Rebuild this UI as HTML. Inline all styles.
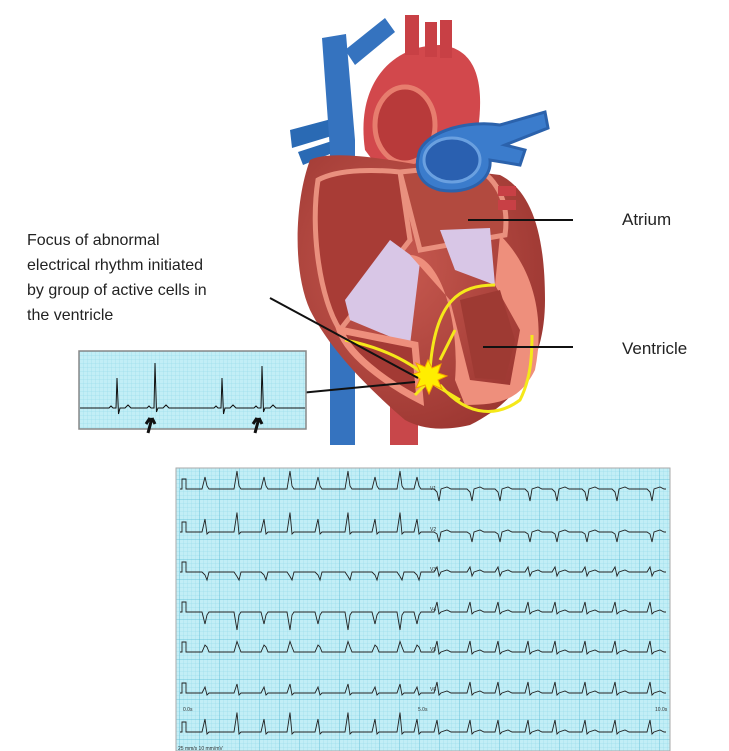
<!DOCTYPE html>
<html><head><meta charset="utf-8"><style>
html,body{margin:0;padding:0;background:#fff;width:729px;height:751px;overflow:hidden}
svg{display:block}
text{font-family:"Liberation Sans",sans-serif}
</style></head><body>
<svg id="s" width="729" height="751" viewBox="0 0 729 751" xmlns="http://www.w3.org/2000/svg">
<defs>
<pattern id="g1" width="4" height="4" patternUnits="userSpaceOnUse"><rect width="4" height="4" fill="#c2eef6"/><path d="M4 0V4M0 4H4" stroke="#8fd6e8" stroke-width="0.5"/></pattern>
<pattern id="g2" width="20" height="20" patternUnits="userSpaceOnUse"><rect width="20" height="20" fill="url(#g1)"/><path d="M20 0V20M0 20H20" stroke="#5bbcd6" stroke-width="0.8"/></pattern>
<radialGradient id="rg" cx="0.4" cy="0.4" r="0.7"><stop offset="0" stop-color="#c85a50"/><stop offset="1" stop-color="#9a3530"/></radialGradient>
</defs>
<path d="M290 130 L335 118 L335 135 L292 148Z" fill="#2a6ab4"/>
<path d="M298 152 L335 140 L335 152 L303 165Z" fill="#2a6ab4"/>
<path d="M322 38 L346 34 L355 140 L355 445 L330 445 L330 150Z" fill="#3573bf"/>
<path d="M345 50 L385 18 L395 32 L355 65Z" fill="#3573bf"/>
<rect x="390" y="395" width="28" height="50" fill="#c8474a"/>
<path d="M365 150 C355 80 395 45 440 45 C475 48 485 80 478 130 L470 170 L380 170Z" fill="#d2484c"/>
<rect x="405" y="15" width="14" height="40" fill="#c84045"/>
<rect x="425" y="22" width="12" height="35" fill="#c84045"/>
<rect x="440" y="20" width="12" height="38" fill="#c84045"/>
<ellipse cx="405" cy="125" rx="30" ry="38" fill="#b83a3a" stroke="#e77d6e" stroke-width="5"/>
<path d="M310 160 C330 150 380 158 420 165 L500 175 C530 190 545 230 545 300 C545 360 520 400 470 425 C440 432 420 428 405 420 C370 390 330 350 310 310 C292 270 295 200 310 160Z" fill="url(#rg)"/>
<path d="M318 180 C340 168 380 170 400 172 L410 240 L340 330 C320 300 310 230 318 180Z" fill="#a83c36" stroke="#e9907e" stroke-width="5"/>
<path d="M400 172 L470 165 C495 175 510 200 505 235 L420 250 Z" fill="#b24a3f" stroke="#e9907e" stroke-width="5"/>
<path d="M345 300 L390 240 L420 262 L410 345 L350 320Z" fill="#d8c6e6"/>
<path d="M440 230 L490 228 L495 285 L455 270Z" fill="#d8c6e6"/>
<path d="M340 330 L415 345 L420 400 C400 390 350 360 340 330Z" fill="#a33a34" stroke="#ee8f7c" stroke-width="7"/>
<path d="M410 255 C440 255 460 320 455 380 L465 405 C500 405 520 400 535 370 C545 320 535 270 500 235 L495 285 L520 330 L510 385 L470 380 L450 300Z" fill="#ee8f7c"/>
<path d="M460 300 L500 290 L515 340 L505 380 L475 378Z" fill="#9e3a33"/>
<path d="M420 150 C430 130 470 120 500 125 L545 112 L548 128 L505 145 L525 150 L520 165 L490 160 C492 180 470 195 440 190 C420 185 413 170 420 150Z" fill="#3b7ccc" stroke="#2b62ac" stroke-width="3"/>
<ellipse cx="452" cy="160" rx="28" ry="22" fill="#2a60b0" stroke="#6aa0e0" stroke-width="3"/>
<rect x="498" y="186" width="18" height="10" fill="#c84045"/>
<rect x="498" y="200" width="18" height="10" fill="#c84045"/>
<g fill="none" stroke="#f5e81a" stroke-width="3">
<path d="M430 370 C435 300 460 285 495 285"/>
<path d="M425 375 C400 355 370 345 345 340"/>
<path d="M440 360 L455 330"/>
<path d="M440 385 C470 420 500 415 520 400 C530 380 532 360 532 335"/>
<path d="M435 385 L460 400"/>
<path d="M425 385 L415 395"/>
</g>
<polygon points="428,360 432,368 441,364 438,373 447,376 438,380 442,389 433,385 429,394 425,385 416,388 420,379 411,375 420,372 416,363 425,367" fill="#ffee00" stroke="#f5a000" stroke-width="1"/>
<g stroke="#111" stroke-width="2">
<line x1="468" y1="220" x2="573" y2="220"/>
<line x1="483" y1="347" x2="573" y2="347"/>
<line x1="270" y1="298" x2="418" y2="378"/>
<line x1="279" y1="395" x2="415" y2="382"/>
</g>
<text x="622" y="225" font-size="17" fill="#222">Atrium</text>
<text x="622" y="354" font-size="17" fill="#222">Ventricle</text>
<g font-size="16" fill="#222">
<text x="27" y="245">Focus of  abnormal</text>
<text x="27" y="270">electrical  rhythm initiated</text>
<text x="27" y="295">by   group of  active cells in</text>
<text x="27" y="320">the ventricle</text>
</g>
<rect x="79" y="351" width="227" height="78" fill="url(#g1)" stroke="#888" stroke-width="1.5"/>
<path id="sm" fill="none" stroke="#111" stroke-width="1"/>
<path d="M152 418 L148 433 M150 418 L146 424 M152 418 L155 424" stroke="#111" stroke-width="3" fill="none"/>
<path d="M259 418 L255 433 M257 418 L253 424 M259 418 L262 424" stroke="#111" stroke-width="3" fill="none"/>
<rect x="176" y="468" width="494" height="283" fill="url(#g2)" stroke="#aaa"/>
<g id="big" fill="none" stroke="#222" stroke-width="0.9"></g>
<g font-size="5" fill="#333">
<text x="430" y="490">V1</text><text x="430" y="531">V2</text><text x="430" y="571">V3</text><text x="430" y="611">V4</text><text x="430" y="651">V5</text><text x="430" y="691">V6</text>
<text x="183" y="711">0.0s</text><text x="418" y="711">5.0s</text><text x="655" y="711">10.0s</text>
<text x="178" y="750">25 mm/s   10 mm/mV</text>
</g>
</svg>
<script>
function beat(x,b,h,d){return ` L${x-8} ${b} L${x-6} ${b-2} L${x-4} ${b} L${x-1} ${b} L${x} ${b-h} L${x+1.5} ${b+d} L${x+3} ${b} L${x+8} ${b} L${x+11} ${b-3} L${x+14} ${b}`;}
var b=408,p=`M80 ${b}`;
[[117,30,6],[155,45,4],[222,30,6],[262,42,4]].forEach(q=>{p+=beat(q[0],b,q[1],q[2]);});
p+=` L305 ${b}`;document.getElementById('sm').setAttribute('d',p);
var rows=[489,532,572,612,652,693,732],g=document.getElementById('big'),s='';
var cfgL=[[12,-3],[13,2],[-3,8],[-12,3],[7,-5],[6,2],[13,2]];
var cfgR=[[-3,12],[-2,10],[5,4],[10,2],[11,2],[11,2],[12,2]];
rows.forEach((y,i)=>{
 var d=`M180 ${y} L182 ${y} L182 ${y-10} L186 ${y-10} L186 ${y}`;
 var xs=[205,237,264,290,318,348,375,400,417];
 xs.forEach((x,k)=>{var h=cfgL[i][0]*(k%2?1.5:1),dd=cfgL[i][1];d+=` L${x-3} ${y} L${x} ${y-h} L${x+2} ${y+dd} L${x+4} ${y}`;});
 d+=` L423 ${y}`;
 [437,470,498,528,555,585,615,650].forEach((x,k)=>{var h=cfgR[i][0],dd=cfgR[i][1];d+=` L${x-3} ${y} L${x} ${y-h} L${x+2} ${y+dd} L${x+4} ${y} L${x+10} ${y-2} L${x+14} ${y}`;});
 d+=` L666 ${y}`;s+=`<path d="${d}"/>`;
});
g.innerHTML=s;
</script>
</body></html>
